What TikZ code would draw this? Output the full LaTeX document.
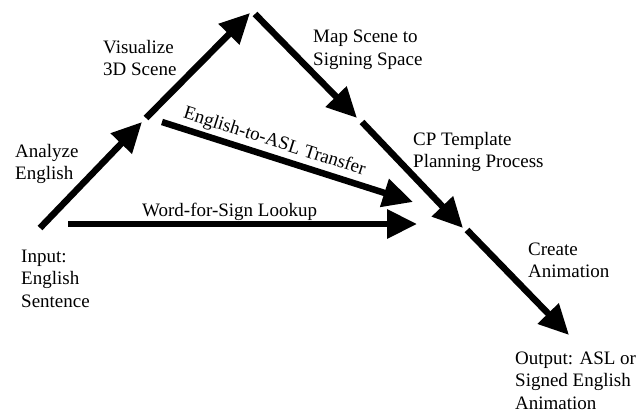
\documentclass[tikz,border=0pt]{standalone}
\usepackage{fontspec}
\setmainfont{Liberation Serif}
\usetikzlibrary{arrows.meta}
\begin{document}
\begin{tikzpicture}[x=1pt,y=-1pt,
  flow/.style={line width=6.5pt,-{Triangle[length=30pt,width=28pt]}},
  lbl/.style={anchor=base west,align=left,inner sep=0pt,font=\fontsize{19}{22.5}\selectfont}]
\useasboundingbox (0,0) rectangle (636,412);
% coordinates
\coordinate (a1s) at (40,228);  \coordinate (a1e) at (142,122);
\coordinate (a2s) at (146,118); \coordinate (a2e) at (250,13);
\coordinate (a3s) at (255,14);  \coordinate (a3e) at (357,118);
\coordinate (a4s) at (362,122); \coordinate (a4e) at (463,228);
\coordinate (a5s) at (467,230); \coordinate (a5e) at (569,335);
\coordinate (ts) at (162,122);  \coordinate (te) at (413,202);
\coordinate (ws) at (68,224);   \coordinate (we) at (417,224);
% arrows
\draw[flow] (a1s) -- (a1e);
\draw[flow] (a2s) -- (a2e);
\draw[flow] (a3s) -- (a3e);
\draw[flow] (a4s) -- (a4e);
\draw[flow] (a5s) -- (a5e);
\draw[flow] (ts) -- node[pos=0.43,above=3pt,sloped,inner sep=0pt,font=\fontsize{19}{22.5}\selectfont] (tl) {English-to-ASL Transfer} (te);
\draw[flow] (ws) -- (we);
% labels (anchor = baseline of last line)
\node[lbl] (vis) at (103,75.5) {Visualize\\3D Scene};
\node[lbl] (ana) at (15,179.5) {Analyze\\English};
\node[lbl] (map) at (313,65.5) {Map Scene to\\Signing Space};
\node[lbl] (cp) at (413,167.5) {CP Template\\Planning Process};
\node[lbl] (cre) at (528,277.5) {Create\\Animation};
\node[lbl] (out) at (515,409) {Output: ASL or\\Signed English\\Animation};
\node[lbl] (inp) at (21,307) {Input:\\English\\Sentence};
\node[lbl] (wfs) at (142,216) {Word-for-Sign Lookup};
\end{tikzpicture}
\end{document}
